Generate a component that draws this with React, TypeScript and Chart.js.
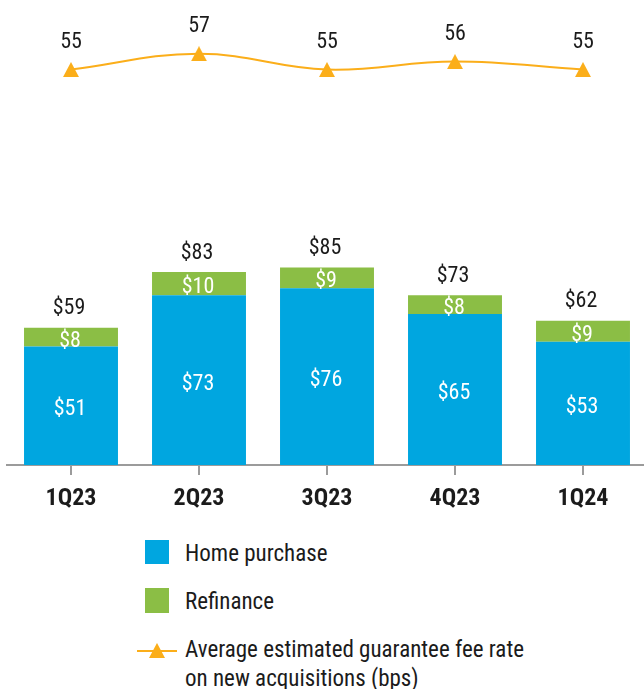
import React, { useEffect, useRef } from 'react';
import { Chart, registerables } from 'chart.js';

Chart.register(...registerables);

const categories = ['1Q23', '2Q23', '3Q23', '4Q23', '1Q24'];
const homePurchase = [51, 73, 76, 65, 53];
const refinance = [8, 10, 9, 8, 9];
const totals = [59, 83, 85, 73, 62];
const feeRate = [55, 57, 55, 56, 55];

const legendLabels = ['Home purchase', 'Refinance', 'Average estimated guarantee fee rate', 'on new acquisitions (bps)'];

const BLUE = '#00A6E0';
const GREEN = '#8BBE45';
const ORANGE = '#FBAE1A';
const AXIS = '#9b9b9b';
const TEXT = '#1b1b1b';
const FONT = "'Liberation Sans Narrow', 'Roboto Condensed', 'DejaVu Sans Condensed', 'Liberation Sans', sans-serif";

function makeTriangle(w: number, h: number, color: string) {
  const c = document.createElement('canvas');
  c.width = w;
  c.height = h;
  const g = c.getContext('2d')!;
  g.fillStyle = color;
  g.beginPath();
  g.moveTo(w / 2, 0);
  g.lineTo(w, h);
  g.lineTo(0, h);
  g.closePath();
  g.fill();
  return c;
}

const labelsPlugin = {
  id: 'valueLabels',
  afterDatasetsDraw(chart: any) {
    const ctx = chart.ctx;
    ctx.save();
    ctx.font = `22px ${FONT}`;
    ctx.textAlign = 'center';
    ctx.textBaseline = 'middle';
    const m0 = chart.getDatasetMeta(0);
    const m1 = chart.getDatasetMeta(1);
    const m2 = chart.getDatasetMeta(2);
    m0.data.forEach((bar: any, i: number) => {
      const p = bar.getProps(['x', 'y', 'base'], true);
      ctx.fillStyle = '#ffffff';
      ctx.fillText(`$${homePurchase[i]}`, p.x - 1, (p.y + p.base) / 2 + 4);
    });
    m1.data.forEach((bar: any, i: number) => {
      const p = bar.getProps(['x', 'y', 'base'], true);
      ctx.fillStyle = '#ffffff';
      ctx.fillText(`$${refinance[i]}`, p.x - 1, (p.y + p.base) / 2 + 4);
      ctx.fillStyle = TEXT;
      ctx.fillText(`$${totals[i]}`, p.x - 2, p.y - 19);
    });
    m2.data.forEach((pt: any, i: number) => {
      const p = pt.getProps(['x', 'y'], true);
      ctx.fillStyle = TEXT;
      ctx.fillText(`${feeRate[i]}`, p.x, p.y - 27);
    });
    ctx.restore();
  },
};

export default function App() {
  const ref = useRef<HTMLCanvasElement | null>(null);

  useEffect(() => {
    if (!ref.current) return;
    const tri = makeTriangle(16, 15, ORANGE);
    const chart = new Chart(ref.current, {
      type: 'bar',
      data: {
        labels: categories,
        datasets: [
          {
            label: legendLabels[0],
            data: homePurchase,
            backgroundColor: BLUE,
            borderWidth: 0,
            yAxisID: 'y',
            order: 2,
          },
          {
            label: legendLabels[1],
            data: refinance,
            backgroundColor: GREEN,
            borderWidth: 0,
            yAxisID: 'y',
            order: 2,
          },
          {
            type: 'line',
            label: legendLabels[2] + ' ' + legendLabels[3],
            data: feeRate,
            borderColor: ORANGE,
            backgroundColor: ORANGE,
            borderWidth: 2,
            tension: 0.4,
            fill: false,
            pointStyle: tri as any,
            pointRadius: 8,
            yAxisID: 'y1',
            order: 1,
          } as any,
        ],
      },
      options: {
        animation: false,
        responsive: false,
        devicePixelRatio: 1,
        layout: { autoPadding: false, padding: { left: 7, right: 13, top: 0, bottom: 0 } },
        datasets: { bar: { categoryPercentage: 1, barPercentage: 0.734 } },
        plugins: { legend: { display: false }, tooltip: { enabled: false } },
        scales: {
          x: {
            stacked: true,
            offset: true,
            grid: {
              display: true,
              drawOnChartArea: false,
              drawTicks: true,
              tickLength: 10,
              offset: false,
              color: AXIS,
              lineWidth: 2,
            },
            border: { display: true, color: AXIS, width: 2 },
            ticks: {
              color: TEXT,
              font: { family: FONT, size: 24, weight: 'bold' },
              padding: 10,
            },
            afterFit: (s: any) => {
              s.height = 55;
            },
          },
          y: { stacked: true, display: false, min: 0, max: 200 },
          y1: { display: false, min: 4.94, max: 63.8 },
        },
      } as any,
      plugins: [labelsPlugin],
    });
    return () => chart.destroy();
  }, []);

  const textStyle: React.CSSProperties = {
    position: 'absolute',
    left: 185,
    fontFamily: FONT,
    fontSize: 23,
    lineHeight: '29px',
    color: TEXT,
    whiteSpace: 'nowrap',
  };

  return (
    <div style={{ position: 'fixed', left: 0, top: 0, width: 644, height: 689, overflow: 'hidden', background: '#fff' }}>
      <canvas ref={ref} width={660} height={520} style={{ position: 'absolute', left: 0, top: 0, width: 660, height: 520 }} />
      <div style={{ position: 'absolute', left: 145, top: 540, width: 24, height: 24, background: BLUE }} />
      <div style={{ ...textStyle, top: 539 }}>{legendLabels[0]}</div>
      <div style={{ position: 'absolute', left: 145, top: 588, width: 24, height: 25, background: GREEN }} />
      <div style={{ ...textStyle, top: 587 }}>{legendLabels[1]}</div>
      <div style={{ position: 'absolute', left: 137, top: 650, width: 40, height: 2, background: ORANGE }} />
      <div
        style={{
          position: 'absolute',
          left: 149,
          top: 643,
          width: 0,
          height: 0,
          borderLeft: '8px solid transparent',
          borderRight: '8px solid transparent',
          borderBottom: `15px solid ${ORANGE}`,
        }}
      />
      <div style={{ ...textStyle, top: 635 }}>
        {legendLabels[2]}
        <br />
        {legendLabels[3]}
      </div>
    </div>
  );
}
